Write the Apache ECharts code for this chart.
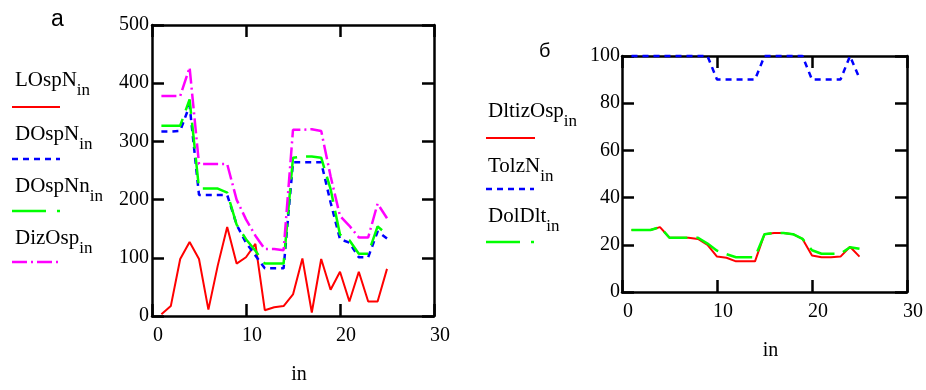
<!DOCTYPE html>
<html><head><meta charset="utf-8">
<script src="https://cdn.jsdelivr.net/npm/echarts@6/dist/echarts.min.js"></script>
<style>html,body{margin:0;padding:0;background:#fff}#c{width:926px;height:390px}</style>
</head><body><div id="c"></div>
<script>
// index values
const inIdx = [1,2,3,4,5,6,7,8,9,10,11,12,13,14,15,16,17,18,19,20,21,22,23,24,25];
// chart а
const LOspN  = [3,17,98,127,98,11,87,153,90,101,124,10,15,17,37,99,6,98,45,76,25,76,25,25,81];
const DOspN  = [317,317,318,362,208,208,208,208,157,126,104,82,82,82,264,264,264,264,195,132,126,101,101,145,133];
const DOspNn = [327,327,327,372,219,219,219,212,157,132,112,90,90,90,272,274,274,272,218,140,130,107,107,154,140];
const DizOsp = [378,378,378,427,261,261,261,261,200,166,138,115,115,113,320,320,321,318,240,172,155,135,135,193,168];
// chart б
const DltizOsp = [26.3,26.3,26.3,27.5,23,23,23,22.5,20,15,14.5,13,13,13,24.5,25,25,24.5,22.5,15.5,14.7,14.7,15,19.2,15];
const TolzN    = [100,100,100,100,100,100,100,100,100,90,90,90,90,90,100,100,100,100,100,90,90,90,90,100,90.5];
const DolDlt   = [26.3,26.3,26.3,27.5,23,23,23,23,20.5,17.5,16,14.7,14.7,14.7,24.5,25,25,24.5,22.5,17.7,16.2,16.2,16.2,19,18.3];

const serif = "'Liberation Serif','Times New Roman',serif";
const sans = "'Liberation Sans',Arial,sans-serif";
function pairs(arr){ return arr.map((v,i)=>[inIdx[i], v]); }

function xAx(gi, pos, main){
  return {type:'value', gridIndex:gi, position:pos, min:0, max:30, interval:10,
    axisLine:{show:true, onZero:false, lineStyle:{color:'#000', width:2.5}},
    axisTick:{show:true, inside:true, length:12, lineStyle:{color:'#000', width:2.5}},
    axisLabel:{show:main, color:'#000', fontFamily:serif, fontSize:20, margin:10, padding:[0,0,0,12]},
    splitLine:{show:false},
    name: main ? 'in' : '', nameLocation:'middle', nameGap:49,
    nameTextStyle:{color:'#000', fontFamily:serif, fontSize:20, padding:[0,0,0,12]}
  };
}
function yAx(gi, pos, main, max, interval, margin){
  return {type:'value', gridIndex:gi, position:pos, min:0, max:max, interval:interval,
    axisLine:{show:true, onZero:false, lineStyle:{color:'#000', width:2.5}},
    axisTick:{show:true, inside:true, length:12, lineStyle:{color:'#000', width:2.5}},
    axisLabel:{show:main, color:'#000', fontFamily:serif, fontSize:20, margin:margin},
    splitLine:{show:false}
  };
}
function ser(xi, yi, arr, color, width, type){
  return {type:'line', xAxisIndex:xi, yAxisIndex:yi, data:pairs(arr), symbol:'none', showSymbol:false,
    clip:false, lineStyle:{color:color, width:width, type:type}, z:3};
}
function legText(left, top, main){
  return {left:left, top:top, padding:0, text:'{m|'+main+'}{s|in}',
    textStyle:{fontWeight:'normal', rich:{
      m:{fontSize:21, fontFamily:serif, fontWeight:'normal', color:'#000', lineHeight:24, verticalAlign:'top'},
      s:{fontSize:17, fontFamily:serif, fontWeight:'normal', color:'#000', lineHeight:17, verticalAlign:'top', padding:[12,0,0,0]}
    }}};
}

const blueDash = [6,5], greenDash = [26,9], magDash = [15,4,2,4];

const chart = echarts.init(document.getElementById('c'), null, {renderer:'canvas'});
chart.setOption({
  animation:false,
  backgroundColor:'#fff',
  grid:[
    {left:152, top:25, width:282, height:297},
    {left:622, top:56, width:288, height:236}
  ],
  xAxis:[xAx(0,'bottom',true), xAx(0,'top',false), xAx(1,'bottom',true), xAx(1,'top',false)],
  yAxis:[yAx(0,'left',true,500,100,3), yAx(0,'right',false,500,100,3),
         yAx(1,'left',true,100,20,2), yAx(1,'right',false,100,20,2)],
  series:[
    ser(0,0,LOspN,'#ff0000',2,'solid'),
    ser(0,0,DOspN,'#0000ff',2.5,blueDash),
    ser(0,0,DOspNn,'#00ff00',2.5,greenDash),
    ser(0,0,DizOsp,'#ff00ff',2.5,magDash),
    ser(2,2,DltizOsp,'#ff0000',2,'solid'),
    ser(2,2,TolzN,'#0000ff',2.5,blueDash),
    ser(2,2,DolDlt,'#00ff00',2.5,greenDash)
  ],
  title:[
    {left:51, top:8, padding:0, text:'а', textStyle:{fontFamily:sans, fontSize:23, fontWeight:'normal', color:'#000', lineHeight:23}},
    {left:539, top:41, padding:0, text:'б', textStyle:{fontFamily:sans, fontSize:20, fontWeight:'normal', color:'#000', lineHeight:20}},
    legText(15,70,'LOspN'),
    legText(15,124,'DOspN'),
    legText(15,176,'DOspNn'),
    legText(15,228,'DizOsp'),
    legText(488,101,'DltizOsp'),
    legText(488,156,'TolzN'),
    legText(488,206,'DolDlt')
  ],
  graphic:[
    {type:'line', shape:{x1:12,y1:107,x2:60,y2:107}, style:{stroke:'#ff0000', lineWidth:2}},
    {type:'line', shape:{x1:12,y1:159,x2:60,y2:159}, style:{stroke:'#0000ff', lineWidth:2.5, lineDash:[6,5]}},
    {type:'line', shape:{x1:12,y1:211,x2:60,y2:211}, style:{stroke:'#00ff00', lineWidth:2.5, lineDash:[34,11]}},
    {type:'line', shape:{x1:12,y1:262,x2:60,y2:262}, style:{stroke:'#ff00ff', lineWidth:2.5, lineDash:[15,4,2,4]}},
    {type:'line', shape:{x1:486,y1:138,x2:535,y2:138}, style:{stroke:'#ff0000', lineWidth:2}},
    {type:'line', shape:{x1:486,y1:189,x2:534,y2:189}, style:{stroke:'#0000ff', lineWidth:2.5, lineDash:[6,5]}},
    {type:'line', shape:{x1:486,y1:242,x2:534,y2:242}, style:{stroke:'#00ff00', lineWidth:2.5, lineDash:[34,11]}}
  ]
});
</script>
</body></html>
